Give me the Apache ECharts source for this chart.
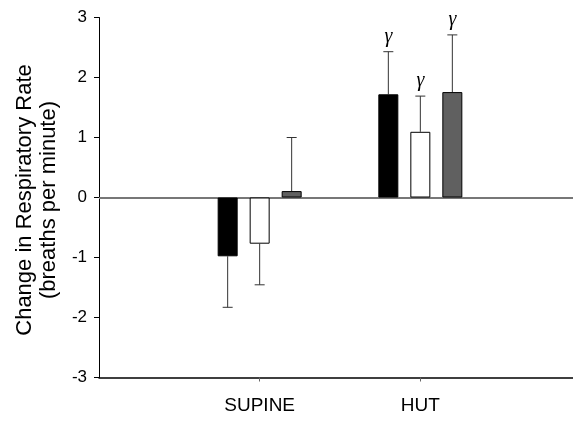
<!DOCTYPE html>
<html>
<head>
<meta charset="utf-8">
<style>html,body{margin:0;padding:0;background:#fff;}#c{width:573px;height:422px;}</style>
<script src="https://cdn.jsdelivr.net/npm/echarts@6/dist/echarts.min.js"></script>
</head>
<body>
<div id="c"></div>
<script>
// x slots: empty slot at the axis origin and at the far right
const categories = ['', 'SUPINE', 'HUT', ''];
const yTicks = [-3, -2, -1, 0, 1, 2, 3];
// series values per category slot (SUPINE, HUT)
const blackValues = [null, -0.98, 1.72, null];
const whiteValues = [null, -0.77, 1.095, null];
const grayValues  = [null, 0.107, 1.757, null];
// one-sided error bars (away from zero)
const blackErr = [null, 0.85, 0.71, null];
const whiteErr = [null, 0.685, 0.595, null];
const grayErr  = [null, 0.893, 0.953, null];
// significance markers
const blackMark = ['', '', 'γ', ''];
const whiteMark = ['', '', 'γ', ''];
const grayMark  = ['', '', 'γ', ''];

const chart = echarts.init(document.getElementById('c'), null, {renderer: 'canvas'});

function errSeries(values, errs, marks, offset) {
  const data = [];
  values.forEach((v, i) => { if (v !== null) data.push([i, v, errs[i]]); });
  return {
    type: 'custom',
    z: 1,
    silent: true,
    clip: false,
    data: data,
    renderItem: function (params, api) {
      const ci = api.value(0), v = api.value(1), e = api.value(2);
      const end = v + (v >= 0 ? e : -e);
      const p0 = api.coord([ci, v]);
      const p1 = api.coord([ci, end]);
      const x = p0[0] + offset;
      const children = [
        {type: 'line', shape: {x1: x, y1: p0[1], x2: x, y2: p1[1]}, style: {stroke: '#333', lineWidth: 1}},
        {type: 'line', shape: {x1: x - 5, y1: p1[1], x2: x + 5, y2: p1[1]}, style: {stroke: '#333', lineWidth: 1}}
      ];
      const m = marks[ci];
      if (m) {
        children.push({type: 'text', style: {text: m, x: x, y: p1[1] - 5, align: 'center', verticalAlign: 'bottom',
          font: 'italic 20px "Liberation Serif", "DejaVu Serif", serif', fill: '#000'}});
      }
      return {type: 'group', children: children};
    }
  };
}

const barCommon = {type: 'bar', barWidth: 20, barGap: '60%', z: 2, silent: true};

chart.setOption({
  animation: false,
  backgroundColor: '#fff',
  grid: {left: 99, right: -8, top: 17.5, bottom: 44.5, containLabel: false, outerBoundsMode: 'none'},
  xAxis: {
    type: 'category',
    data: categories,
    boundaryGap: false,
    axisLine: {onZero: false, lineStyle: {color: '#000', width: 1.5}},
    axisTick: {show: true, length: 4, lineStyle: {color: '#666'}, interval: function (i) { return i === 1 || i === 2; }},
    axisLabel: {interval: function (i) { return i === 1 || i === 2; }, color: '#000', fontSize: 19,
      fontFamily: '"Liberation Sans", Arial, sans-serif', margin: 19},
    splitLine: {show: false}
  },
  yAxis: {
    type: 'value',
    min: yTicks[0], max: yTicks[yTicks.length - 1], interval: 1,
    axisLine: {show: true, lineStyle: {color: '#000', width: 1}},
    axisTick: {show: true, length: 5, lineStyle: {color: '#000'}},
    axisLabel: {color: '#000', fontSize: 17, fontFamily: '"Liberation Sans", Arial, sans-serif', margin: 12},
    splitLine: {show: false}
  },
  graphic: [{
    type: 'text',
    x: 37, y: 200,
    rotation: Math.PI / 2,
    style: {text: 'Change in Respiratory Rate\n(breaths per minute)', align: 'center', verticalAlign: 'middle',
      font: '22px "Liberation Sans", Arial, sans-serif', lineHeight: 24, fill: '#000'}
  }],
  series: [
    Object.assign({}, barCommon, {
      name: 'black', data: blackValues,
      itemStyle: {color: '#000', borderColor: '#000', borderWidth: 1},
      markLine: {silent: true, symbol: 'none', label: {show: false}, z: 1,
        lineStyle: {color: '#777', width: 2, type: 'solid'}, data: [{yAxis: 0}]}
    }),
    Object.assign({}, barCommon, {name: 'white', data: whiteValues, itemStyle: {color: '#fff', borderColor: '#000', borderWidth: 1}}),
    Object.assign({}, barCommon, {name: 'gray', data: grayValues, itemStyle: {color: '#606060', borderColor: '#000', borderWidth: 1}}),
    errSeries(blackValues, blackErr, blackMark, -32),
    errSeries(whiteValues, whiteErr, whiteMark, 0),
    errSeries(grayValues, grayErr, grayMark, 32)
  ]
});
</script>
</body>
</html>
